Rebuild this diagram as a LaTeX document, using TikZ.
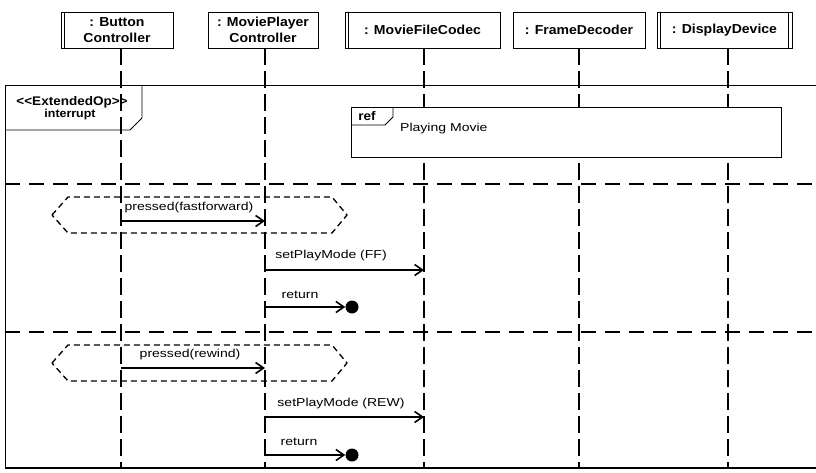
\documentclass[tikz,border=0pt]{standalone}
\usepackage{fontspec}
\setmainfont{Liberation Sans}
\newfontfamily\lblfont[FakeStretch=1.22]{Liberation Sans}
\newfontfamily\hdrfont[FakeStretch=1.08]{Liberation Sans}
\usetikzlibrary{arrows.meta}
\begin{document}
\begin{tikzpicture}[x=1pt,y=-1pt,
  headbox/.style={draw,line width=0.8pt,minimum height=36pt,inner sep=0pt,align=center,
    font=\hdrfont\bfseries\fontsize{13}{16.5}\selectfont},
  lifeline/.style={line width=1.7pt,dash pattern=on 17pt off 6pt},
  sepline/.style={line width=1.9pt,dash pattern=on 15pt off 9pt},
  hexa/.style={line width=1.3pt,dash pattern=on 6pt off 4pt},
  msg/.style={line width=1.6pt,-{Straight Barb[length=8pt,width=11pt,line width=1.6pt]}},
  lbl/.style={font=\lblfont\fontsize{11.5}{13}\selectfont,inner sep=0pt},
  thinline/.style={line width=0.8pt},
  tagtext/.style={font=\hdrfont\bfseries\fontsize{12.5}{14}\selectfont,inner sep=0pt}
]
\useasboundingbox (0,0) rectangle (816,473);
\fill[white] (0,0) rectangle (816,473);

% head boxes
\node[headbox,minimum width=112pt] (bc) at (117,30) {: Button\\Controller};
\node[headbox,minimum width=110pt] (mpc) at (263,30) {: MoviePlayer\\Controller};
\node[headbox,minimum width=155pt] (mfc) at (422.5,30) {: MovieFileCodec};
\node[headbox,minimum width=132pt] (fd) at (579,30) {: FrameDecoder};
\node[headbox,minimum width=135pt] (dd) at (724.5,30) {: DisplayDevice};
% active-object double bars
\draw[thinline] ([xshift=4pt]bc.north west) -- ([xshift=4pt]bc.south west);
\draw[thinline] ([xshift=4pt]mfc.north west) -- ([xshift=4pt]mfc.south west);
\draw[thinline] ([xshift=4pt]dd.north west) -- ([xshift=4pt]dd.south west);
\draw[thinline] ([xshift=-4pt]dd.north east) -- ([xshift=-4pt]dd.south east);

% lifeline coordinates
\coordinate (l1t) at (121,48);  \coordinate (l1b) at (121,468);
\coordinate (l2t) at (265,48);  \coordinate (l2b) at (265,468);
\coordinate (l3t) at (424,48);  \coordinate (l3b) at (424,468);
\coordinate (l4t) at (579,48);  \coordinate (l4b) at (579,468);
\coordinate (l5t) at (728,48);  \coordinate (l5b) at (728,468);
\foreach \i in {1,...,5} \draw[lifeline] (l\i t) -- (l\i b);

% combined fragment frame
\coordinate (ftr) at (816,85); \coordinate (ftl) at (5,85);
\coordinate (fbl) at (5,468); \coordinate (fbr) at (816,468);
\draw[thinline] (ftr) -- (ftl) -- (fbl);
\draw[line width=1.3pt] (fbl) -- (fbr);
\coordinate (tg1) at (5,130); \coordinate (tg2) at (130,130);
\coordinate (tg3) at (142,118); \coordinate (tg4) at (142,85);
\draw[thinline] (tg1) -- (tg2) -- (tg3) -- (tg4);
\node[tagtext] (st) at (72,102) {<{}<ExtendedOp>{}>};
\node[tagtext,font=\hdrfont\bfseries\fontsize{11.5}{13}\selectfont] (iname) at (70,115) {interrupt};

% ref
\node[draw,thinline,fill=white,minimum width=430pt,minimum height=50pt,inner sep=0pt] (ref) at (566,132) {};
\coordinate (rf1) at (351,125); \coordinate (rf2) at (385,125);
\coordinate (rf3) at (393,117); \coordinate (rf4) at (393,107);
\draw[thinline] (rf1) -- (rf2) -- (rf3) -- (rf4);
\node[tagtext] (reft) at (367,116) {ref};
\node[lbl,anchor=west,font=\lblfont\fontsize{11.5}{13}\selectfont] (pm) at (400,129) {Playing Movie};

% operand separators
\coordinate (s1l) at (5,184); \coordinate (s1r) at (816,184);
\coordinate (s2l) at (5,332); \coordinate (s2r) at (816,332);
\draw[sepline] (s1l) -- (s1r);
\draw[sepline] (s2l) -- (s2r);

% hexagons
\draw[hexa] (52,215) -- (68,197) -- (332,197) -- (347,215) -- (332,233) -- (68,233) -- cycle;
\draw[hexa] (52,363) -- (68,345) -- (332,345) -- (347,363) -- (332,381) -- (68,381) -- cycle;

% messages operand 1
\coordinate (m1a) at (121,221); \coordinate (m1b) at (265,221);
\draw[msg] (m1a) -- (m1b);
\node[lbl] (m1l) at (189,208) {pressed(fastforward)};
\coordinate (m2a) at (265,270); \coordinate (m2b) at (424,270);
\draw[msg] (m2a) -- (m2b);
\node[lbl] (m2l) at (331,256) {setPlayMode (FF)};
\coordinate (r1a) at (265,307);
\node[circle,fill=black,minimum size=13pt,inner sep=0pt] (g1) at (352,307) {};
\draw[msg] (r1a) -- (g1.west);
\node[lbl] (r1l) at (300,295) {return};

% messages operand 2
\coordinate (m3a) at (121,368); \coordinate (m3b) at (265,368);
\draw[msg] (m3a) -- (m3b);
\node[lbl] (m3l) at (190,355) {pressed(rewind)};
\coordinate (m4a) at (265,417); \coordinate (m4b) at (424,417);
\draw[msg] (m4a) -- (m4b);
\node[lbl] (m4l) at (341,404) {setPlayMode (REW)};
\coordinate (r2a) at (265,455);
\node[circle,fill=black,minimum size=13pt,inner sep=0pt] (g2) at (352,455) {};
\draw[msg] (r2a) -- (g2.west);
\node[lbl] (r2l) at (299,442) {return};
\end{tikzpicture}
\end{document}
